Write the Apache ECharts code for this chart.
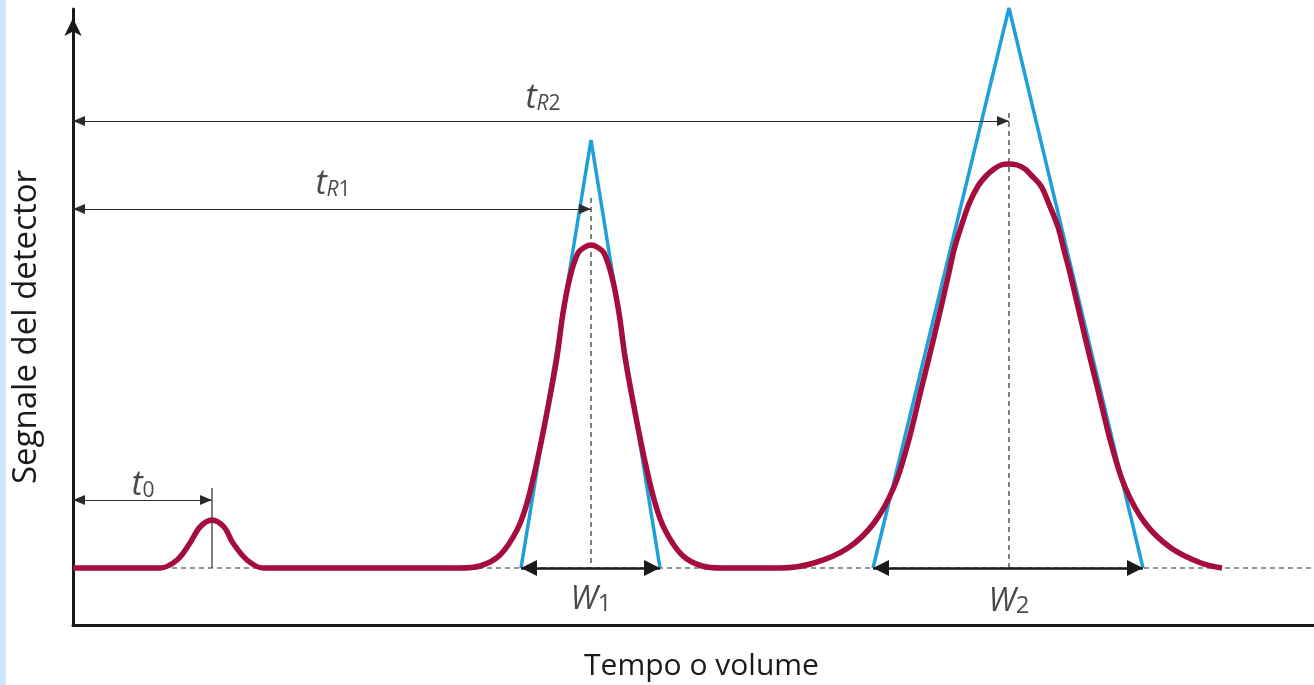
<!DOCTYPE html>
<html>
<head>
<meta charset="utf-8">
<script src="https://cdn.jsdelivr.net/npm/echarts@6/dist/echarts.min.js"></script>
<style>
  html, body { margin: 0; padding: 0; background: #fff; }
  #chart { width: 1314px; height: 685px; }
</style>
</head>
<body>
<div id="chart"></div>
<script>
// detector signal (time, signal)
const signal = [
  [0, 0.57], [0.87, 0.57], [1.04, 0.65], [1.17, 0.82], [1.27, 0.98], [1.39, 1.05],
  [1.51, 0.98], [1.60, 0.82], [1.74, 0.65], [1.90, 0.57],
  [3.87, 0.57], [4.07, 0.59], [4.27, 0.70], [4.44, 0.95], [4.54, 1.22], [4.65, 1.68],
  [4.75, 2.18], [4.84, 2.68], [4.90, 3.12], [4.97, 3.48], [5.05, 3.72], [5.12, 3.78],
  [5.18, 3.80], [5.24, 3.78], [5.31, 3.72], [5.39, 3.48], [5.46, 3.12], [5.52, 2.68],
  [5.61, 2.18], [5.71, 1.68], [5.82, 1.22], [5.92, 0.95], [6.09, 0.70], [6.29, 0.59],
  [6.49, 0.57],
  [7.08, 0.57], [7.41, 0.62], [7.75, 0.77], [8.01, 1.02], [8.21, 1.38], [8.35, 1.82],
  [8.48, 2.35], [8.61, 2.88], [8.75, 3.48], [8.81, 3.75], [8.88, 3.98], [8.96, 4.21],
  [9.05, 4.39], [9.13, 4.49], [9.21, 4.56], [9.28, 4.60], [9.36, 4.61], [9.44, 4.60],
  [9.52, 4.56], [9.59, 4.49], [9.68, 4.39], [9.76, 4.21], [9.85, 3.98], [9.91, 3.75],
  [9.98, 3.48], [10.12, 2.88], [10.25, 2.35], [10.38, 1.82], [10.52, 1.38], [10.72, 1.02],
  [10.98, 0.77], [11.28, 0.62], [11.49, 0.57]
];

// tangent triangles
const tangent1 = [[4.48, 0.57], [5.18, 4.85], [5.87, 0.57]];
const tangent2 = [[8.00, 0.57], [9.36, 6.17], [10.70, 0.57]];

const baseline = [[0, 0.57], [12.41, 0.57]];
const peakTimes = [1.39, 5.18, 9.36];      // t0, tR1, tR2
const guideTops = [1.37, 4.27, 5.12];
const arrowLevels = [1.25, 4.16, 5.04];    // t0, tR1, tR2 arrows
const widthEnds = [[4.48, 5.87], [8.00, 10.70]];

// labels
const labelNames = ['t0', 'tR1', 'tR2', 'W1', 'W2'];
const labelText = ['{t|t}{s|0}', '{t|t}{r|R}{s|1}', '{t|t}{r|R}{s|2}', '{w|W}{ws|1}', '{w|W}{ws|2}'];
const labelX = [0.70, 2.60, 4.70, 5.18, 9.36];
const labelY = [1.42, 4.43, 5.29, 0.31, 0.29];

const chart = echarts.init(document.getElementById('chart'));

const font = 'Open Sans';
const ink = '#1a1a1a';
const thin = '#2b2b2b';

// arrow end with the tip sitting on the coordinate
function tip(coord, size) {
  return { coord: coord, symbol: 'triangle', symbolSize: size, symbolOffset: [0, size[1] / 2] };
}

const thinArrows = arrowLevels.map((y, i) => [
  tip([0, y], [10, 12]),
  tip([peakTimes[i], y], [10, 12])
]);
const wArrows = widthEnds.map(e => [
  tip([e[0], 0.57], [16, 16]),
  tip([e[1], 0.57], [16, 16])
]);

const guides = [];
peakTimes.forEach((x, i) => {
  guides.push({
    type: 'line',
    data: [[x, guideTops[i]], [x, 0.57]],
    symbol: 'none',
    silent: true,
    z: 1,
    lineStyle: { color: thin, width: 1.2, type: i === 0 ? 'solid' : [5, 4] }
  });
});

chart.setOption({
  animation: false,
  graphic: [{
    type: 'rect',
    left: 0, top: 0,
    shape: { width: 6, height: 685 },
    style: { fill: '#cfe5f8' }
  }],
  grid: { left: 73, right: 0, top: 9, bottom: 60, outerBoundsMode: 'none' },
  xAxis: {
    type: 'value', min: 0, max: 12.41,
    name: 'Tempo o volume',
    nameLocation: 'middle',
    nameGap: 26,
    nameTextStyle: { fontFamily: font, fontSize: 30, color: ink, padding: [0, 0, 0, 16] },
    axisLine: { onZero: false, lineStyle: { color: ink, width: 3 } },
    axisTick: { show: false }, axisLabel: { show: false }, splitLine: { show: false }
  },
  yAxis: {
    type: 'value', min: 0, max: 6.16,
    name: 'Segnale del detector',
    nameLocation: 'middle',
    nameRotate: 90,
    nameGap: 30,
    nameTextStyle: { fontFamily: font, fontSize: 33, color: ink, padding: [0, 20, 0, 0] },
    axisLine: {
      show: true,
      symbol: ['none', 'arrow'],
      symbolSize: [13, 18],
      symbolOffset: [0, -9],
      lineStyle: { color: ink, width: 3 }
    },
    axisTick: { show: false }, axisLabel: { show: false }, splitLine: { show: false }
  },
  series: [
    {
      name: 'baseline', type: 'line', data: baseline, symbol: 'none', silent: true, z: 1,
      lineStyle: { color: thin, width: 1.2, type: [5, 4] },
      markLine: {
        silent: true,
        label: { show: false },
        lineStyle: { color: thin, width: 1.2, type: 'solid' },
        data: thinArrows
      }
    },
    ...guides,
    {
      name: 'tangent1', type: 'line', data: tangent1, symbol: 'none', clip: false, z: 2,
      lineStyle: { color: '#1fa0d8', width: 3.5 }
    },
    {
      name: 'tangent2', type: 'line', data: tangent2, symbol: 'none', clip: false, z: 2,
      lineStyle: { color: '#1fa0d8', width: 3.5 }
    },
    {
      name: 'signal', type: 'line', data: signal, symbol: 'none', smooth: 0.35, z: 3,
      lineStyle: { color: '#a50d3d', width: 5.5 }
    },
    {
      name: 'widths', type: 'line', data: [], symbol: 'none', z: 4,
      markLine: {
        silent: true,
        label: { show: false },
        lineStyle: { color: ink, width: 2.5, type: 'solid' },
        data: wArrows
      }
    },
    {
      name: 'labels', type: 'scatter', symbolSize: 0, z: 5, silent: true,
      data: labelNames.map((n, i) => ({
        name: n,
        value: [labelX[i], labelY[i]],
        label: { formatter: labelText[i] }
      })),
      label: {
        show: true,
        position: 'inside',
        color: ink,
        rich: {
          t: { fontFamily: font, fontSize: 34, fontStyle: 'italic', lineHeight: 38, verticalAlign: 'bottom', color: ink },
          r: { fontFamily: font, fontSize: 21, fontStyle: 'italic', lineHeight: 22, verticalAlign: 'bottom', color: ink },
          s: { fontFamily: font, fontSize: 21, lineHeight: 22, verticalAlign: 'bottom', color: ink },
          w: { fontFamily: font, fontSize: 32, fontStyle: 'italic', lineHeight: 44, verticalAlign: 'bottom', color: ink },
          ws: { fontFamily: font, fontSize: 24, lineHeight: 24, verticalAlign: 'bottom', color: ink }
        }
      }
    }
  ]
});
</script>
</body>
</html>
